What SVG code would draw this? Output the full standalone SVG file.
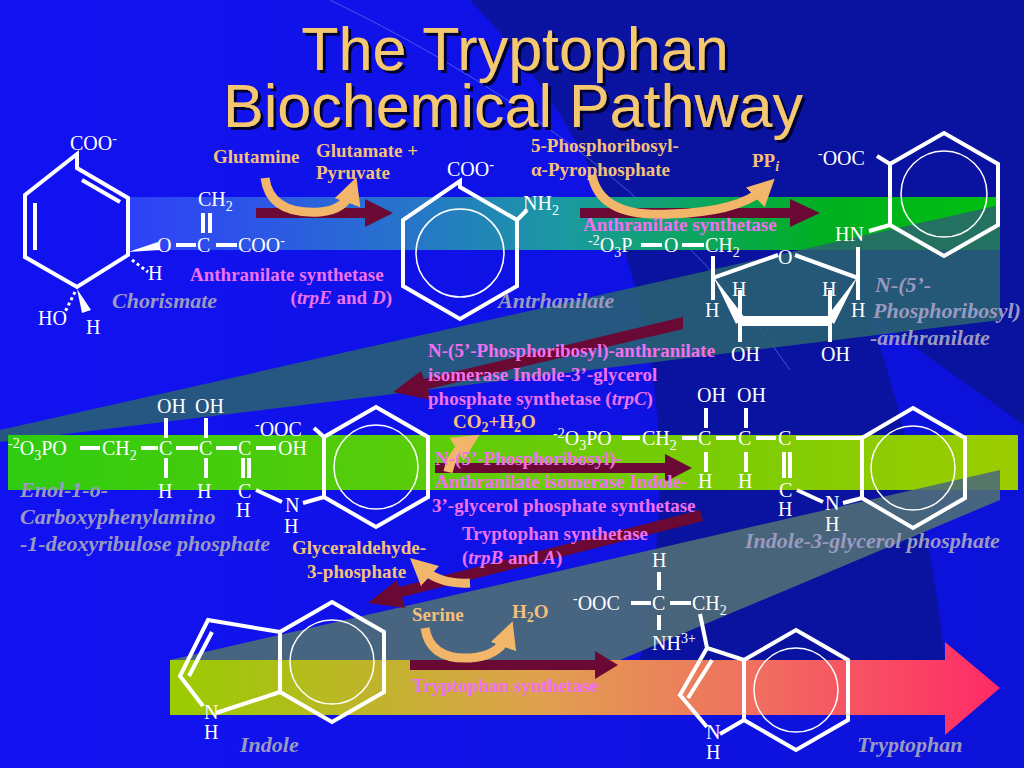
<svg xmlns="http://www.w3.org/2000/svg" width="1024" height="768" viewBox="0 0 1024 768">
<defs>
<linearGradient id="bg" x1="0" y1="0" x2="1" y2="0"><stop offset="0" stop-color="#1212f2"/><stop offset="1" stop-color="#0c12d8"/></linearGradient>
<linearGradient id="topband" x1="0" y1="0" x2="1" y2="0"><stop offset="0" stop-color="#4a70ff" stop-opacity="0.5"/><stop offset="0.5" stop-color="#1a9aa0"/><stop offset="0.8" stop-color="#00b020"/><stop offset="1" stop-color="#00c010"/></linearGradient>
<linearGradient id="midband" x1="0" y1="0" x2="1" y2="0"><stop offset="0" stop-color="#2ecc10"/><stop offset="1" stop-color="#9ccc00"/></linearGradient>
<linearGradient id="botband" x1="0" y1="0" x2="1" y2="0"><stop offset="0" stop-color="#99cc00"/><stop offset="0.45" stop-color="#e0a050"/><stop offset="0.7" stop-color="#f07060"/><stop offset="1" stop-color="#ff2a66"/></linearGradient>
<marker id="oh" viewBox="0 0 10 10" refX="5" refY="5" markerWidth="3" markerHeight="3" orient="auto"><path d="M0,0 L10,5 L0,10 Z" fill="#f2b66a"/></marker>
<filter id="sh"><feDropShadow dx="3" dy="3" stdDeviation="0.5" flood-color="#000030"/></filter>
</defs>
<style>
.s{fill:#fff;font-family:"Liberation Serif",serif;font-size:20px}
.b{stroke:#fff;stroke-width:4;fill:none;stroke-linejoin:miter}
.c{stroke:#fff;stroke-width:1.5;fill:none}
.p{fill:#f070f0;font-family:"Liberation Serif",serif;font-size:19px;font-weight:bold}
.o{fill:#f5c07a;font-family:"Liberation Serif",serif;font-size:19px;font-weight:bold}
.g{fill:#9a9ac0;font-family:"Liberation Serif",serif;font-size:22px;font-weight:bold;font-style:italic}
.ra{fill:#6a0a34}
.oa{stroke:#f2b66a;stroke-width:9;fill:none;stroke-linecap:butt}
.sub{font-size:14px}
</style>
<rect width="1024" height="768" fill="url(#bg)"/>
<path d="M470,0 H1024 V425 L870,315 Q925,480 945,660 L640,660 Q720,260 470,0 Z" fill="#0a1490" opacity="0.8"/>
<path d="M330,0 Q640,150 790,370" stroke="#6a80ff" stroke-width="1" fill="none" opacity="0.6"/>

<g id="bands">
<rect x="130" y="197" width="870" height="53" fill="url(#topband)"/>
<path d="M0,430 L1000,205 L1000,320 L0,442 Z" fill="#2a6470" opacity="0.85"/>
<rect x="8" y="435" width="1010" height="55" fill="url(#midband)"/>
<path d="M170,660 L1000,470 L1000,500 L620,660 Z" fill="#4e6e76" opacity="0.9"/>
<path d="M170,660 H945 V642 L1000,688 L945,735 V715 H170 Z" fill="url(#botband)"/>
</g>

<g id="title" filter="url(#sh)" font-family="'Liberation Sans',Arial,sans-serif" font-size="61" fill="#f5c870" text-anchor="middle">
<text x="515" y="70">The Tryptophan</text>
<text x="513" y="127">Biochemical Pathway</text>
</g>

<g id="chorismate">
<text class="s" x="70" y="150">COO<tspan class="sub" dy="-7">-</tspan></text>
<path class="b" d="M77,154 V168 L128,198 V255 L77,287 L25,257 V195 Z"/>
<path class="b" d="M82,180 L120,202 M35,203 V250"/>
<path d="M128,252 L158,242 L160,250 Z" fill="#fff"/>
<path d="M132,260 L148,272" stroke="#fff" stroke-width="3" stroke-dasharray="3,3"/>
<text class="s" x="148" y="280">H</text>
<text class="s" x="157" y="252">O</text>
<line class="b" x1="176" y1="245" x2="196" y2="245" stroke-width="3"/>
<text class="s" x="197" y="252">C</text>
<line class="b" x1="216" y1="245" x2="237" y2="245" stroke-width="3"/>
<text class="s" x="238" y="252">COO<tspan class="sub" dy="-7">-</tspan></text>
<path class="b" d="M203,213 V233 M210,213 V233" stroke-width="3"/>
<text class="s" x="198" y="206">CH<tspan class="sub" dy="5">2</tspan></text>
<path d="M77,289 L82,313 L91,310 Z" fill="#fff"/>
<path d="M75,292 L64,314" stroke="#fff" stroke-width="3" stroke-dasharray="3,3"/>
<text class="s" x="38" y="325">HO</text>
<text class="s" x="86" y="334">H</text>
<text class="g" x="112" y="308">Chorismate</text>
</g>

<g id="anthranilate">
<text class="s" x="447" y="176">COO<tspan class="sub" dy="-7">-</tspan></text>
<path class="b" d="M460,181 V187 L517,220 V286 L460,319 L403,286 V220 Z"/>
<circle class="c" cx="460" cy="253" r="44"/>
<line class="b" x1="517" y1="220" x2="527" y2="210" stroke-width="3"/>
<text class="s" x="523" y="210">NH<tspan class="sub" dy="5">2</tspan></text>
<text class="g" x="498" y="308">Antrhanilate</text>
</g>

<g id="prpanthranilate">
<text class="s" x="818" y="165"><tspan class="sub" dy="-7">-</tspan><tspan dy="7">OOC</tspan></text>
<path class="b" d="M944,133 L998,164 V225 L944,256 L890,225 V164 Z"/>
<circle class="c" cx="944" cy="194" r="43"/>
<line class="b" x1="890" y1="164" x2="877" y2="156" stroke-width="3"/>
<line class="b" x1="890" y1="225" x2="869" y2="231" stroke-width="3"/>
<text class="s" x="835" y="241">HN</text>
<text class="s" x="588" y="252"><tspan class="sub" dy="-7">-2</tspan><tspan dy="7">O</tspan><tspan class="sub" dy="5">3</tspan><tspan dy="-5">P</tspan></text>
<line class="b" x1="641" y1="245" x2="662" y2="245" stroke-width="3"/>
<text class="s" x="664" y="252">O</text>
<line class="b" x1="682" y1="245" x2="704" y2="245" stroke-width="3"/>
<text class="s" x="705" y="252">CH<tspan class="sub" dy="5">2</tspan></text>
<path class="b" d="M713,256 V278 L778,255 M795,255 L858,278 M858,247 V300 M713,278 V300" stroke-width="3"/>
<text class="s" x="778" y="264">O</text>
<path d="M713,276 L745,318 L736,324 Z M858,276 L826,318 L834,324 Z" fill="#fff"/>
<path d="M738,316 H832 V326 H738 Z" fill="#fff"/>
<path class="b" d="M740,290 V316 M830,290 V316 M740,326 V342 M830,326 V342" stroke-width="3"/>
<text class="s" x="732" y="296">H</text>
<text class="s" x="705" y="317">H</text>
<text class="s" x="822" y="296">H</text>
<text class="s" x="851" y="317">H</text>
<text class="s" x="731" y="361">OH</text>
<text class="s" x="821" y="361">OH</text>
<text class="g" x="875" y="292">N-(5’-</text>
<text class="g" x="873" y="318">Phosphoribosyl)</text>
<text class="g" x="870" y="345">-anthranilate</text>
</g>

<g id="cdrp">
<text class="s" x="8" y="455"><tspan class="sub" dy="-7">-2</tspan><tspan dy="7">O</tspan><tspan class="sub" dy="5">3</tspan><tspan dy="-5">PO</tspan></text>
<line class="b" x1="80" y1="448" x2="100" y2="448" stroke-width="3"/>
<text class="s" x="102" y="455">CH<tspan class="sub" dy="5">2</tspan></text>
<line class="b" x1="141" y1="448" x2="158" y2="448" stroke-width="3"/>
<text class="s" x="159" y="455">C</text>
<line class="b" x1="176" y1="448" x2="198" y2="448" stroke-width="3"/>
<text class="s" x="199" y="455">C</text>
<line class="b" x1="216" y1="448" x2="237" y2="448" stroke-width="3"/>
<text class="s" x="238" y="455">C</text>
<line class="b" x1="256" y1="448" x2="276" y2="448" stroke-width="3"/>
<text class="s" x="278" y="455">OH</text>
<text class="s" x="157" y="413">OH</text>
<text class="s" x="195" y="413">OH</text>
<path class="b" d="M166,418 V438 M206,418 V438 M166,458 V478 M206,458 V478 M243,458 V478 M249,458 V478" stroke-width="3"/>
<text class="s" x="158" y="498">H</text>
<text class="s" x="197" y="498">H</text>
<text class="s" x="238" y="498">C</text>
<text class="s" x="236" y="517">H</text>
<text class="s" x="255" y="436"><tspan class="sub" dy="-7">-</tspan><tspan dy="7">OOC</tspan></text>
<line class="b" x1="256" y1="490" x2="282" y2="502" stroke-width="3"/>
<text class="s" x="285" y="512">N</text>
<text class="s" x="284" y="533">H</text>
<path class="b" d="M376,407 L428,437 V497 L376,527 L324,497 V437 Z"/>
<circle class="c" cx="376" cy="467" r="42"/>
<line class="b" x1="324" y1="437" x2="314" y2="428" stroke-width="3"/>
<line class="b" x1="324" y1="497" x2="303" y2="503" stroke-width="3"/>
<text class="g" x="20" y="497">Enol-1-o-</text>
<text class="g" x="20" y="524">Carboxyphenylamino</text>
<text class="g" x="20" y="551">-1-deoxyribulose phosphate</text>
</g>

<g id="igp">
<text class="s" x="553" y="445"><tspan class="sub" dy="-7">-2</tspan><tspan dy="7">O</tspan><tspan class="sub" dy="5">3</tspan><tspan dy="-5">PO</tspan></text>
<line class="b" x1="622" y1="438" x2="640" y2="438" stroke-width="3"/>
<text class="s" x="642" y="445">CH<tspan class="sub" dy="5">2</tspan></text>
<line class="b" x1="682" y1="438" x2="697" y2="438" stroke-width="3"/>
<text class="s" x="698" y="445">C</text>
<line class="b" x1="716" y1="438" x2="736" y2="438" stroke-width="3"/>
<text class="s" x="738" y="445">C</text>
<line class="b" x1="756" y1="438" x2="776" y2="438" stroke-width="3"/>
<text class="s" x="778" y="445">C</text>
<line class="b" x1="796" y1="438" x2="862" y2="438" stroke-width="3"/>
<text class="s" x="697" y="402">OH</text>
<text class="s" x="737" y="402">OH</text>
<path class="b" d="M706,408 V428 M746,408 V428 M706,452 V472 M746,452 V472 M784,452 V478 M790,452 V478" stroke-width="3"/>
<text class="s" x="698" y="488">H</text>
<text class="s" x="738" y="488">H</text>
<text class="s" x="779" y="497">C</text>
<text class="s" x="778" y="516">H</text>
<line class="b" x1="797" y1="490" x2="823" y2="502" stroke-width="3"/>
<text class="s" x="825" y="510">N</text>
<text class="s" x="825" y="531">H</text>
<line class="b" x1="843" y1="503" x2="862" y2="498" stroke-width="3"/>
<path class="b" d="M913,408 L965,438 V498 L913,528 L862,498 V438 Z"/>
<circle class="c" cx="913" cy="468" r="42"/>
<text class="g" x="745" y="548">Indole-3-glycerol phosphate</text>
</g>

<g id="indole">
<path class="b" d="M332,602 L384,632 V692 L332,722 L280,692 V632 Z"/>
<circle class="c" cx="332" cy="662" r="42"/>
<path class="b" d="M280,632 L208,620 L180,676 L203,706 M216,713 L280,692 M212,632 L189,676" stroke-width="3.5"/>
<text class="s" x="204" y="719">N</text>
<text class="s" x="204" y="739">H</text>
<text class="g" x="240" y="752">Indole</text>
</g>

<g id="tryptophan">
<text class="s" x="573" y="610"><tspan class="sub" dy="-7">-</tspan><tspan dy="7">OOC</tspan></text>
<line class="b" x1="631" y1="603" x2="651" y2="603" stroke-width="3"/>
<text class="s" x="652" y="610">C</text>
<line class="b" x1="670" y1="603" x2="691" y2="603" stroke-width="3"/>
<text class="s" x="692" y="610">CH<tspan class="sub" dy="5">2</tspan></text>
<text class="s" x="652" y="567">H</text>
<path class="b" d="M659,572 V590 M659,615 V630" stroke-width="3"/>
<text class="s" x="652" y="650">NH<tspan class="sub" dy="-7">3+</tspan></text>
<path class="b" d="M796,630 L848,660 V720 L796,750 L744,720 V660 Z"/>
<circle class="c" cx="796" cy="690" r="42"/>
<path class="b" d="M700,614 L707,648 L744,660 M707,648 L680,695 L707,727 M720,734 L744,720 M712,660 L688,698" stroke-width="3.5"/>
<text class="s" x="706" y="739">N</text>
<text class="s" x="706" y="759">H</text>
<text class="g" x="857" y="752">Tryptophan</text>
</g>

<g id="connectors">
<path class="ra" d="M256,208 H365 V199 L393,213 L365,227 V218 H256 Z"/>
<path class="ra" d="M580,208 H790 V199 L820,213 L790,227 V218 H580 Z"/>
<path class="ra" d="M683,317 L683,329 L428,389 L431,400 L393,392 L421,371 L424,379 Z"/>
<path class="ra" d="M435,463 H665 V454 L692,468 L665,482 V473 H435 Z"/>
<path class="ra" d="M700,510 L703,521 L402,597 L405,608 L368,603 L397,580 L399,587 Z"/>
<path class="ra" d="M410,660 H595 V651 L618,665 L595,679 V670 H410 Z"/>
<path class="oa" d="M265,178 Q270,215 320,212 Q345,210 352,190" marker-end="url(#oh)"/>
<path class="oa" d="M592,175 Q600,218 670,214 Q740,212 765,188" marker-end="url(#oh)"/>
<path class="oa" d="M448,472 Q452,452 468,442" marker-end="url(#oh)"/>
<path class="oa" d="M470,583 Q440,585 420,567" marker-end="url(#oh)"/>
<path class="oa" d="M425,628 Q430,660 470,658 Q500,656 508,634" marker-end="url(#oh)"/>
</g>

<g id="labels">
<text class="o" x="213" y="163">Glutamine</text>
<text class="o" x="316" y="157">Glutamate +</text>
<text class="o" x="316" y="179">Pyruvate</text>
<text class="p" x="190" y="281">Anthranilate synthetase</text>
<text class="p" x="392" y="304" text-anchor="end">(<tspan font-style="italic">trpE</tspan> and <tspan font-style="italic">D</tspan>)</text>
<text class="o" x="531" y="152">5-Phosphoribosyl-</text>
<text class="o" x="531" y="176">α-Pyrophosphate</text>
<text class="o" x="752" y="167">PP<tspan font-style="italic" class="sub" dy="4">i</tspan></text>
<text class="p" x="583" y="231">Anthranilate synthetase</text>
<text class="p" x="428" y="357">N-(5’-Phosphoribosyl)-anthranilate</text>
<text class="p" x="428" y="381">isomerase Indole-3’-glycerol</text>
<text class="p" x="428" y="405">phosphate synthetase (<tspan font-style="italic">trpC</tspan>)</text>
<text class="o" x="453" y="428">CO<tspan class="sub" dy="4">2</tspan><tspan dy="-4">+H</tspan><tspan class="sub" dy="4">2</tspan><tspan dy="-4">O</tspan></text>
<text class="p" x="435" y="465">N-(5’-Phosphoribosyl)-</text>
<text class="p" x="435" y="488">Anthranilate isomerase Indole-</text>
<text class="p" x="432" y="512">3’-glycerol phosphate synthetase</text>
<text class="p" x="462" y="540">Tryptophan synthetase</text>
<text class="p" x="462" y="564">(<tspan font-style="italic">trpB</tspan> and <tspan font-style="italic">A</tspan>)</text>
<text class="o" x="292" y="554">Glyceraldehyde-</text>
<text class="o" x="307" y="578">3-phosphate</text>
<text class="o" x="412" y="621">Serine</text>
<text class="o" x="512" y="618">H<tspan class="sub" dy="4">2</tspan><tspan dy="-4">O</tspan></text>
<text class="p" x="412" y="692" fill="#f48ce8">Tryptophan synthetase</text>
</g>
</svg>
